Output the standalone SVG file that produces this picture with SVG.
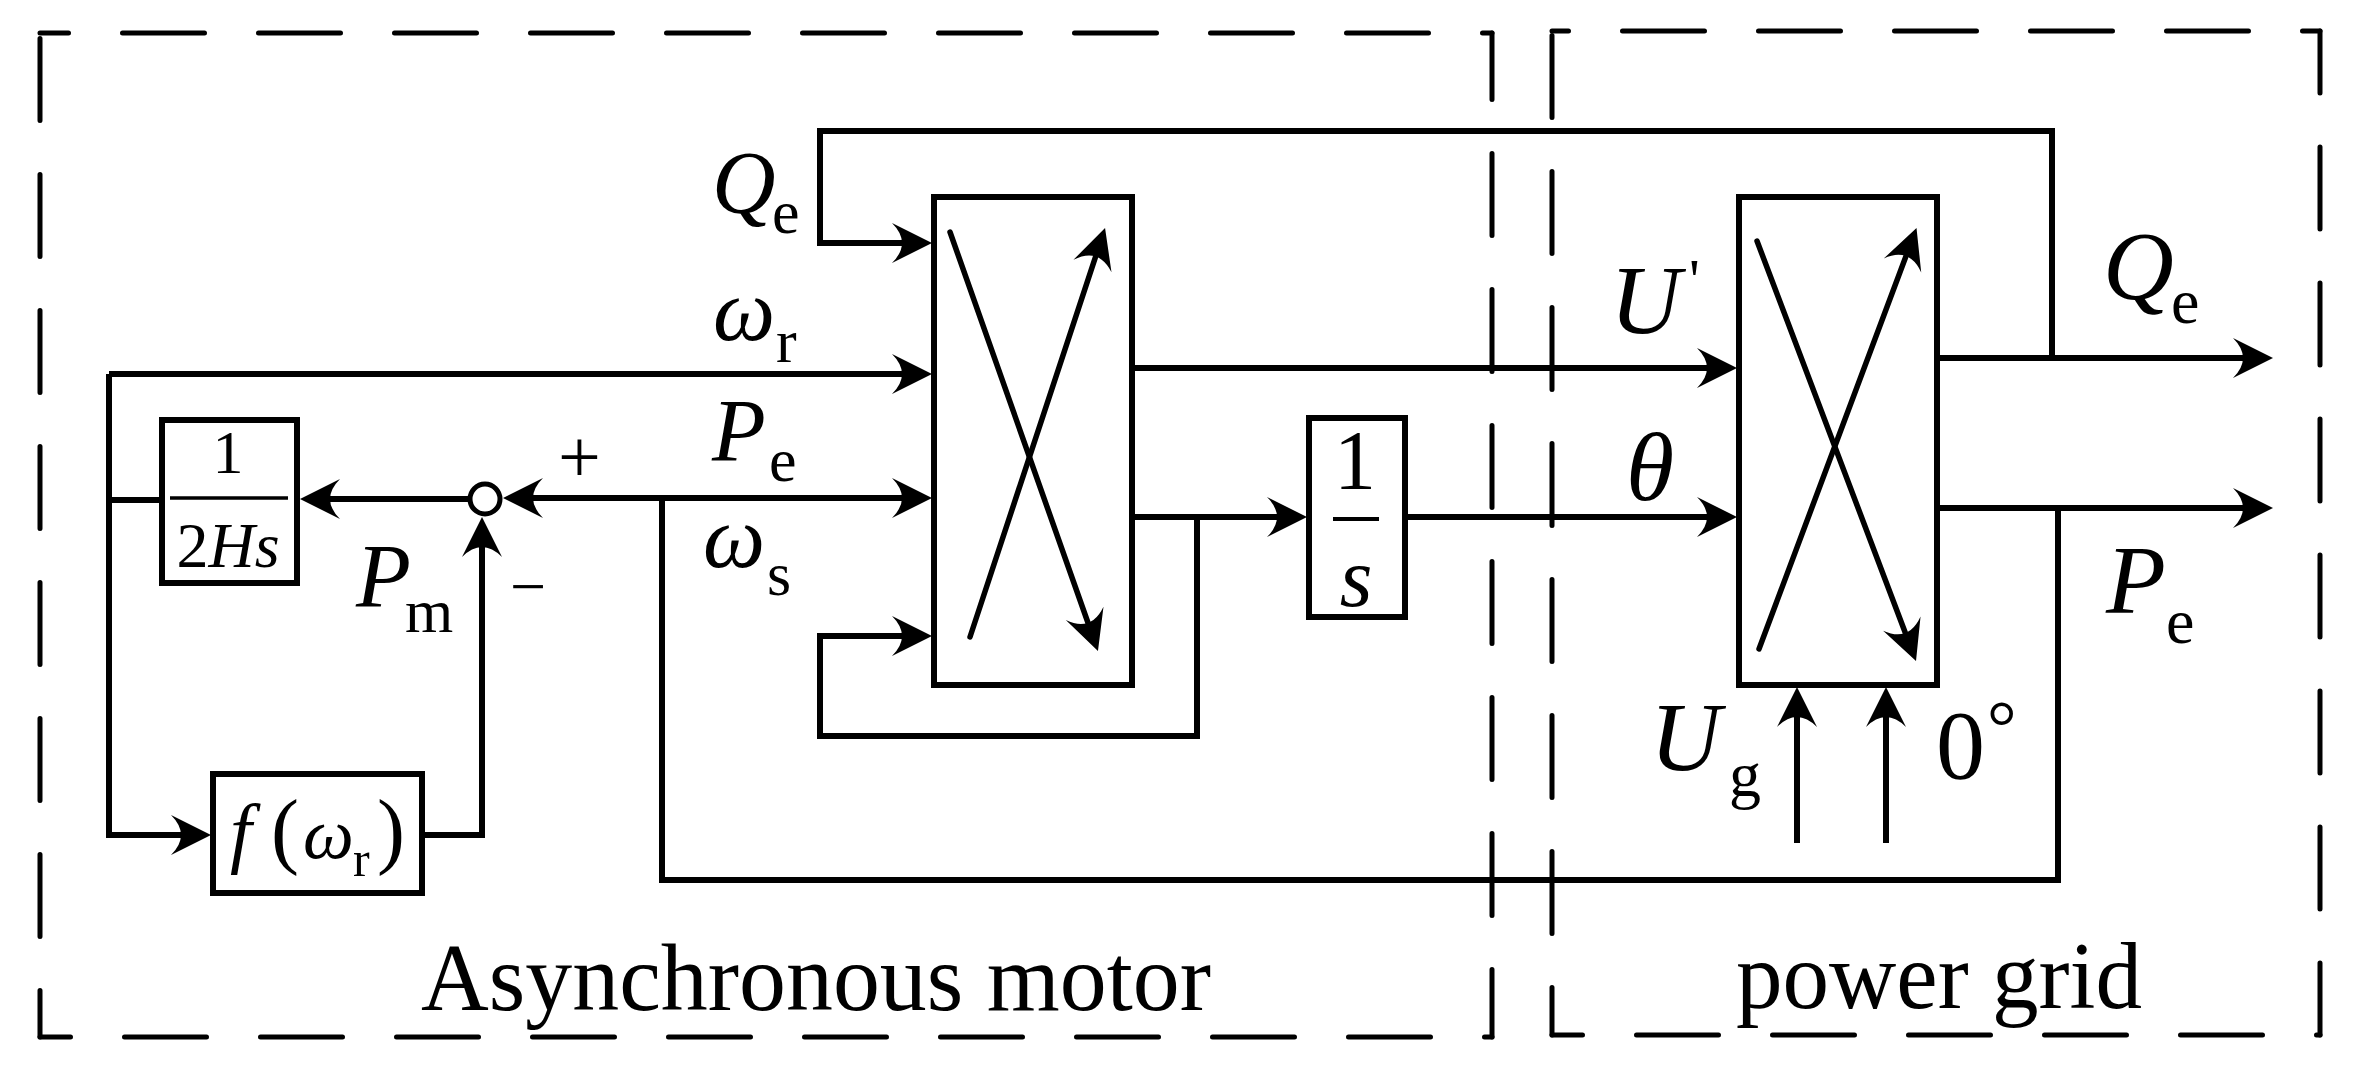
<svg xmlns="http://www.w3.org/2000/svg" width="2361" height="1074" viewBox="0 0 2361 1074">
<style>
.frame{fill:none;stroke:#000;stroke-width:5;stroke-linecap:round;stroke-dasharray:82 54}
.blk{fill:#fff;stroke:#000;stroke-width:6}
.ln{fill:none;stroke:#000;stroke-width:6}
.x{fill:none;stroke:#000;stroke-width:5.5;stroke-linecap:round}
.t{font-family:"Liberation Serif","Times New Roman",serif;fill:#000}
.i{font-style:italic}
</style>
<defs>
<marker id="ah" viewBox="-12 -22 44 44" markerWidth="44" markerHeight="44" refX="4" refY="0" markerUnits="userSpaceOnUse" orient="auto">
<path d="M30,0 L-10,-20 Q10,0 -10,20 Z" fill="#000"/>
</marker>
</defs>
<rect width="2361" height="1074" fill="#fff"/>
<g id="frames">
<path class="frame" d="M40,33 H1492" stroke-dashoffset="53.5"/>
<path class="frame" d="M40,33 V1037" stroke-dashoffset="130.5"/>
<path class="frame" d="M1492,33 V1037" stroke-dashoffset="15.5"/>
<path class="frame" d="M40,1037 H1492" stroke-dashoffset="51.5"/>
<path class="frame" d="M1552,31 H2320" stroke-dashoffset="65.5"/>
<path class="frame" d="M1552,31 V1035" stroke-dashoffset="131.5"/>
<path class="frame" d="M2320,31 V1035" stroke-dashoffset="20"/>
<path class="frame" d="M1552,1035 H2320" stroke-dashoffset="51.5"/>
</g>
<g id="connectors">
<path class="ln" d="M2052,358 V131 H820 V243 H906" marker-end="url(#ah)"/>
<path class="ln" d="M162,500 H109"/>
<path class="ln" d="M109,374 H906" marker-end="url(#ah)"/>
<path class="ln" d="M109,374 V835 H185" marker-end="url(#ah)"/>
<path class="ln" d="M468,499 H326" marker-end="url(#ah)"/>
<path class="ln" d="M422,835 H482 V543" marker-end="url(#ah)"/>
<path class="ln" d="M1937,508 H2247" marker-end="url(#ah)"/>
<path class="ln" d="M2058,508 V880 H662 V498"/>
<path class="ln" d="M662,498 H906" marker-end="url(#ah)"/>
<path class="ln" d="M662,498 H529" marker-end="url(#ah)"/>
<path class="ln" d="M1132,368 H1711" marker-end="url(#ah)"/>
<path class="ln" d="M1132,517 H1281" marker-end="url(#ah)"/>
<path class="ln" d="M1197,517 V736 H820 V636 H906" marker-end="url(#ah)"/>
<path class="ln" d="M1405,517 H1711" marker-end="url(#ah)"/>
<path class="ln" d="M1937,358 H2247" marker-end="url(#ah)"/>
<path class="ln" d="M1797,843 V713" marker-end="url(#ah)"/>
<path class="ln" d="M1886,843 V713" marker-end="url(#ah)"/>
</g>
<g id="int2Hs">
<rect class="blk" x="162" y="420" width="135" height="163"/>
<text class="t" x="228" y="473" font-size="62" text-anchor="middle">1</text>
<line x1="170" y1="498" x2="288" y2="498" stroke="#000" stroke-width="3.5"/>
<text class="t" x="228" y="567" font-size="64" text-anchor="middle">2<tspan class="i">Hs</tspan></text>
</g>
<g id="sum">
<circle cx="485" cy="499" r="15" fill="#fff" stroke="#000" stroke-width="5"/>
</g>
<g id="fw">
<rect class="blk" x="213" y="774" width="209" height="119"/>
<text class="t i" x="230" y="858" font-size="78">f</text>
<text class="t" x="271" y="858" font-size="84">(</text>
<text class="t i" x="303" y="858" font-size="72">ω</text>
<text class="t" x="353" y="876" font-size="50">r</text>
<text class="t" x="377" y="858" font-size="84">)</text>
</g>
<g id="block1">
<rect class="blk" x="934" y="197" width="198" height="488"/>
<line class="x" x1="950" y1="232" x2="1089.3" y2="626.5" marker-end="url(#ah)"/>
<line class="x" x1="970" y1="637" x2="1096.9" y2="252.7" marker-end="url(#ah)"/>
</g>
<g id="ints">
<rect class="blk" x="1309" y="418" width="96" height="199"/>
<text class="t" x="1355" y="489" font-size="84" text-anchor="middle">1</text>
<line x1="1333" y1="519" x2="1379" y2="519" stroke="#000" stroke-width="4"/>
<text class="t i" x="1356" y="606" font-size="84" text-anchor="middle">s</text>
</g>
<g id="block2">
<rect class="blk" x="1739" y="197" width="198" height="488"/>
<line class="x" x1="1757" y1="241" x2="1906.8" y2="636.7" marker-end="url(#ah)"/>
<line class="x" x1="1759" y1="649" x2="1907.4" y2="252.4" marker-end="url(#ah)"/>
</g>
<g id="labels">
<text class="t i" x="712" y="212" font-size="88">Q</text>
<text class="t" x="772" y="233" font-size="62">e</text>
<text class="t i" x="713" y="340" font-size="88">ω</text>
<text class="t" x="776" y="362" font-size="62">r</text>
<text class="t i" x="712" y="460" font-size="88">P</text>
<text class="t" x="769" y="481" font-size="62">e</text>
<text class="t i" x="703" y="567" font-size="88">ω</text>
<text class="t" x="767" y="595" font-size="62">s</text>
<text class="t i" x="356" y="607" font-size="90">P</text>
<text class="t" x="405" y="632" font-size="62">m</text>
<text class="t" x="558" y="482" font-size="76">+</text>
<text class="t" x="510" y="608" font-size="64">−</text>
<text class="t i" x="1610" y="333" font-size="98">U</text>
<text class="t" x="1689" y="300" font-size="60">'</text>
<text class="t i" x="1626" y="500" font-size="98">θ</text>
<text class="t i" x="2103" y="299" font-size="98">Q</text>
<text class="t" x="2171" y="323" font-size="64">e</text>
<text class="t i" x="2106" y="613" font-size="98">P</text>
<text class="t" x="2166" y="643" font-size="64">e</text>
<text class="t i" x="1650" y="770" font-size="98">U</text>
<text class="t" x="1729" y="796" font-size="64">g</text>
<text class="t" x="1936" y="778" font-size="98">0</text>
<text class="t" x="1987" y="752" font-size="74">°</text>
<text class="t" x="421" y="1010" font-size="96" textLength="790" lengthAdjust="spacingAndGlyphs">Asynchronous motor</text>
<text class="t" x="1736" y="1008" font-size="96" textLength="406" lengthAdjust="spacingAndGlyphs">power grid</text>
</g>
</svg>
